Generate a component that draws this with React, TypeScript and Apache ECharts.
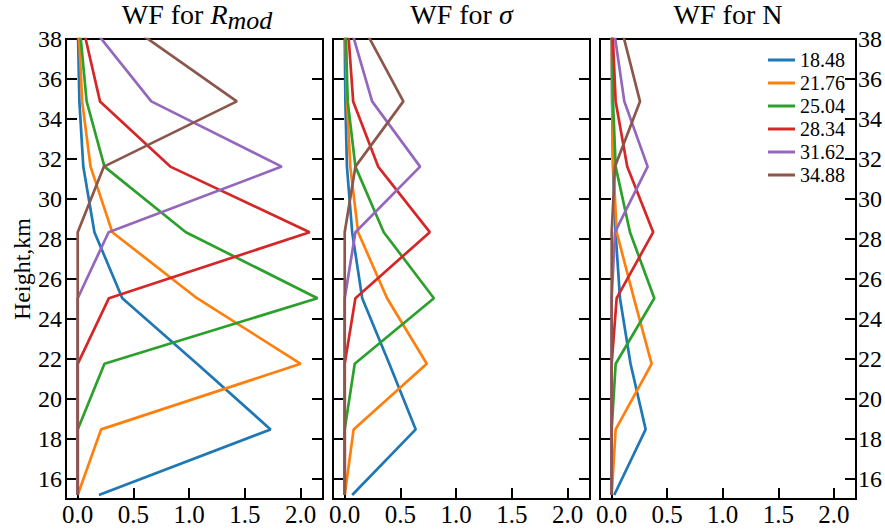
import React, { useEffect, useRef } from "react";
import * as echarts from "echarts";

const heights = [15.2, 18.48, 21.76, 25.04, 28.34, 31.62, 34.88, 38.16];
const seriesNames = ["18.48", "21.76", "25.04", "28.34", "31.62", "34.88"];
const colors = ["#1f77b4", "#ff7f0e", "#2ca02c", "#d62728", "#9467bd", "#8c564b"];

const wfRmod = [
  [0.19, 1.73, 1.07, 0.4, 0.15, 0.05, 0.015, 0.003],
  [0.0, 0.21, 2.0, 1.07, 0.31, 0.115, 0.04, 0.012],
  [0.0, 0.0, 0.24, 2.15, 0.97, 0.24, 0.08, 0.025],
  [0.0, 0.0, 0.0, 0.28, 2.08, 0.83, 0.2, 0.065],
  [0.0, 0.0, 0.0, 0.0, 0.277, 1.83, 0.66, 0.19],
  [0.0, 0.0, 0.0, 0.0, 0.0, 0.235, 1.427, 0.59],
];
const wfSigma = [
  [0.067, 0.637, 0.4, 0.157, 0.067, 0.02, 0.006, 0.0],
  [0.0, 0.08, 0.736, 0.38, 0.12, 0.05, 0.02, 0.008],
  [0.0, 0.0, 0.09, 0.8, 0.35, 0.096, 0.027, 0.01],
  [0.0, 0.0, 0.0, 0.096, 0.763, 0.3, 0.076, 0.034],
  [0.0, 0.0, 0.0, 0.0, 0.096, 0.676, 0.246, 0.075],
  [0.0, 0.0, 0.0, 0.0, 0.0, 0.096, 0.526, 0.21],
];
const wfN = [
  [0.023, 0.306, 0.17, 0.075, 0.035, 0.012, 0.004, 0.0],
  [0.0, 0.036, 0.36, 0.2, 0.045, 0.015, 0.005, 0.002],
  [0.0, 0.0, 0.036, 0.384, 0.165, 0.036, 0.012, 0.005],
  [0.0, 0.0, 0.0, 0.045, 0.374, 0.14, 0.036, 0.01],
  [0.0, 0.0, 0.0, 0.0, 0.03, 0.324, 0.114, 0.028],
  [0.0, 0.0, 0.0, 0.0, 0.0, 0.03, 0.255, 0.105],
];
const panels = [wfRmod, wfSigma, wfN];
const xTicks = [0, 0.5, 1, 1.5, 2];
const yTicks = [16, 18, 20, 22, 24, 26, 28, 30, 32, 34, 36, 38];

const FONT = "'Liberation Serif', 'DejaVu Serif', serif";

export default function App() {
  const ref = useRef<HTMLDivElement>(null);
  useEffect(() => {
    if (!ref.current) return;
    const chart = echarts.init(ref.current, null, { renderer: "svg" });
    const lefts = [66, 333, 600];
    const widths = [257, 257, 256];
    const top = 39;
    const height = 460;

    const grid = lefts.map((l, i) => ({
      left: l,
      top,
      width: widths[i],
      height,
      show: true,
      borderColor: "#000",
      borderWidth: 2,
      backgroundColor: "transparent",
    }));

    const tickStyle = { lineStyle: { color: "#000", width: 2 } };

    const xAxis = lefts.map((_, i) => ({
      type: "value",
      gridIndex: i,
      min: -0.105,
      max: 2.2,
      axisLine: { show: false, onZero: false },
      splitLine: { show: false },
      axisTick: { show: true, inside: true, length: 11, customValues: xTicks, ...tickStyle },
      axisLabel: {
        show: true,
        customValues: xTicks,
        formatter: (v: number) => v.toFixed(1),
        fontSize: 25,
        fontFamily: FONT,
        color: "#000",
        margin: 3,
      },
    }));

    const yAxis: any[] = [];
    lefts.forEach((_, i) => {
      ["left", "right"].forEach((pos) => {
        const showLabel = (i === 0 && pos === "left") || (i === 2 && pos === "right");
        const ax: any = {
          type: "value",
          gridIndex: i,
          position: pos,
          min: 15,
          max: 38,
          axisLine: { show: false, onZero: false },
          splitLine: { show: false },
          axisTick: { show: true, inside: true, length: 11, customValues: yTicks, ...tickStyle },
          axisLabel: {
            show: showLabel,
            customValues: yTicks,
            fontSize: 24,
            fontFamily: FONT,
            color: "#000",
            margin: pos === "left" ? 4 : 2,
          },
        };
        if (i === 0 && pos === "left") {
          ax.name = "Height,km";
          ax.nameLocation = "middle";
          ax.nameRotate = 90;
          ax.nameGap = 32;
          ax.nameTextStyle = { fontSize: 24, fontFamily: FONT, color: "#000" };
        }
        yAxis.push(ax);
      });
    });

    const series: any[] = [];
    panels.forEach((vals, p) => {
      vals.forEach((row, i) => {
        series.push({
          type: "line",
          name: seriesNames[i],
          xAxisIndex: p,
          yAxisIndex: p * 2,
          data: heights.map((h, k) => [row[k], h]),
          symbol: "none",
          clip: true,
          color: colors[i],
          lineStyle: { width: 2.7, color: colors[i] },
          itemStyle: { color: colors[i] },
        });
      });
    });

    const titleRich = {
      i: { fontStyle: "italic", fontSize: 28, fontFamily: FONT, color: "#000" },
    };
    const titleBase = { fontSize: 28, fontFamily: FONT, fill: "#000", verticalAlign: "middle", rich: titleRich };
    const graphic = [
      {
        type: "text",
        x: 227.5,
        y: 14.5,
        style: { ...titleBase, text: "WF for {i|R}", align: "right" },
      },
      {
        type: "text",
        x: 227.5,
        y: 20.5,
        style: {
          text: "mod",
          align: "left",
          verticalAlign: "middle",
          fontSize: 26,
          fontStyle: "italic",
          fontFamily: FONT,
          fill: "#000",
        },
      },
      {
        type: "text",
        x: lefts[1] + widths[1] / 2,
        y: 14.5,
        style: { ...titleBase, text: "WF for {i|σ}", align: "center" },
      },
      {
        type: "text",
        x: lefts[2] + widths[2] / 2,
        y: 14.5,
        style: { ...titleBase, text: "WF for N", align: "center" },
      },
    ];

    chart.setOption({
      animation: false,
      textStyle: { fontFamily: FONT },
      grid,
      xAxis,
      yAxis,
      series,
      graphic,
      legend: {
        data: seriesNames.map((n) => ({ name: n, icon: "rect" })),
        orient: "vertical",
        left: 763,
        top: 45,
        itemWidth: 27,
        itemHeight: 3,
        itemGap: 3,
        textStyle: { fontSize: 20, fontFamily: FONT, color: "#000", lineHeight: 20 },
      },
    });
    return () => chart.dispose();
  }, []);
  return <div ref={ref} style={{ position: "absolute", left: 0, top: 0, width: 885, height: 530 }} />;
}
